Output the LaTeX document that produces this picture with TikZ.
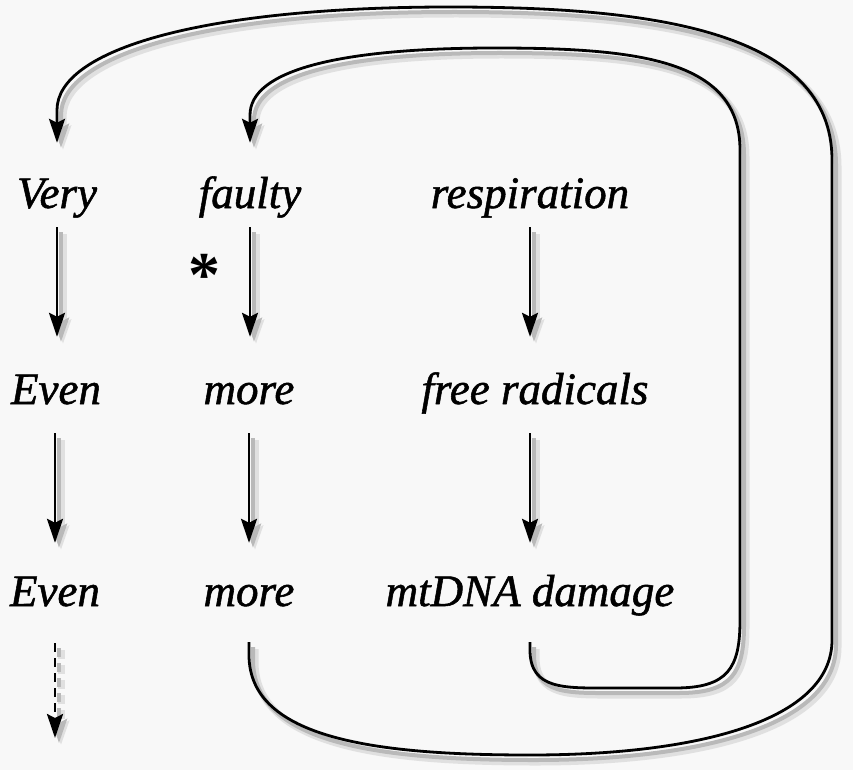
\documentclass[tikz,border=0pt]{standalone}
\usepackage{fontspec}
\setmainfont{Liberation Serif}[ItalicFeatures={FakeBold=1.2}]
\usetikzlibrary{arrows.meta}
\definecolor{bgc}{RGB}{248,248,248}
\definecolor{shA}{RGB}{224,224,224}
\definecolor{shB}{RGB}{185,185,185}
\tikzset{
  lbl/.style={font=\fontsize{45}{54}\selectfont\itshape, inner sep=0pt, anchor=base, text height=31pt, text depth=9pt},
  astk/.style={font=\fontsize{64}{70}\selectfont\bfseries, inner sep=0pt, anchor=base},
  ln/.style={line width=2.8pt},
  tip/.style={-{Stealth[length=24pt,width=16pt,inset=4pt]}},
  dsh/.style={dash pattern=on 9pt off 6pt},
}
% #1: suffix of names, #2: 1 to set the texts
\newcommand\dgm[2]{%
  \node[lbl] (very#1) at (57,208) {\ifnum#2=1 Very\fi};
  \node[lbl] (faulty#1) at (250,208) {\ifnum#2=1 faulty\fi};
  \node[lbl] (resp#1) at (530,208) {\ifnum#2=1 respiration\fi};
  \node[lbl] (evenA#1) at (56,404) {\ifnum#2=1 Even\fi};
  \node[lbl] (moreA#1) at (249,404) {\ifnum#2=1 more\fi};
  \node[lbl] (free#1) at (535,404) {\ifnum#2=1 free radicals\fi};
  \node[lbl] (evenB#1) at (55,606) {\ifnum#2=1 Even\fi};
  \node[lbl] (moreB#1) at (249,606) {\ifnum#2=1 more\fi};
  \node[lbl] (mtdna#1) at (530,606) {\ifnum#2=1 mtDNA damage\fi};
  \coordinate (dend#1) at (55,738);
  \foreach \a/\b in {very/evenA,faulty/moreA,resp/free}
    \draw[ln,tip,shorten <=10pt,shorten >=36pt] (\a#1.south) -- (\a#1.south |- \b#1.north);
  \foreach \a/\b in {evenA/evenB,moreA/moreB,free/mtdna}
    \draw[ln,tip,shorten <=20pt,shorten >=32pt] (\b#1.north |- \a#1.south) -- (\b#1.north);
  \draw[ln,tip,dsh,shorten <=28pt] (evenB#1.south) -- (dend#1);
  \draw[ln,tip,shorten <=27pt,shorten >=34pt] (moreB#1.south) -- (249,655)
    .. controls (249,740) and (380,755) .. (530,755)
    .. controls (700,755) and (832,720) .. (832,640) -- (832,160)
    .. controls (832,30) and (650,7) .. (450,7)
    .. controls (200,7) and (57,50) .. (57,110) -- (very#1.north);
  \draw[ln,tip,shorten <=27pt,shorten >=34pt] (mtdna#1.south) -- (530,650)
    .. controls (530,690) and (565,688) .. (610,688) -- (675,688)
    .. controls (728,688) and (740,668) .. (740,620) -- (740,150)
    .. controls (740,60) and (640,48) .. (495,48)
    .. controls (340,48) and (250,70) .. (250,115) -- (faulty#1.north);
}
\begin{document}
\begin{tikzpicture}[x=1pt,y=-1pt]
\fill[bgc] (0,0) rectangle (853,770);
\useasboundingbox (0,0) rectangle (853,770);
\begin{scope}[transform canvas={shift={(6pt,-7pt)}}, color=shA, ln/.style={line width=7pt}]
  \dgm{s1}{0}
\end{scope}
\begin{scope}[transform canvas={shift={(4pt,-5pt)}}, color=shB, ln/.style={line width=4pt}]
  \dgm{s2}{0}
\end{scope}
\begin{scope}[color=black]
  \dgm{}{1}
  \node[astk] (ast) at (204,296) {*};
\end{scope}
\end{tikzpicture}
\end{document}
